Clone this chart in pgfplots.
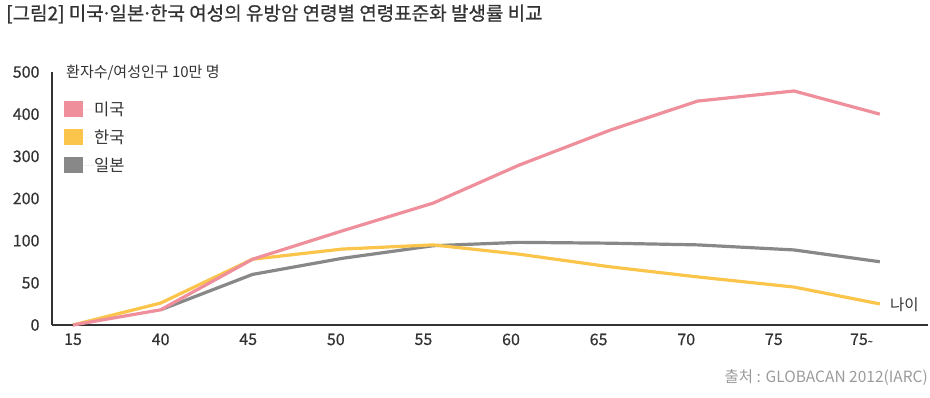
\documentclass[border=0pt]{standalone}
\usepackage{fontspec}
\setmainfont{Noto Sans CJK KR}
\newfontfamily\titlefont[FakeBold=0.7]{Noto Sans CJK KR}
\newfontfamily\tickfont[FakeBold=0.5]{Noto Sans CJK KR}
\usepackage{pgfplots}
\pgfplotsset{compat=1.18}
\definecolor{usa}{HTML}{EF8F9B}
\definecolor{kor}{HTML}{FBC54C}
\definecolor{jpn}{HTML}{888888}
\definecolor{txt}{HTML}{333333}
\definecolor{src}{HTML}{9B9B9B}
\newcommand{\mdot}{\kern-2.5pt·\kern-2.5pt}
\begin{document}
\begin{tikzpicture}[x=1pt,y=1pt]
\useasboundingbox (0,0) rectangle (930,398);
\node[anchor=west, font=\titlefont\fontsize{19}{22}\selectfont, text=txt, inner sep=0pt] at (6,384) {[그림2] 미국\mdot 일본\mdot 한국 여성의 유방암 연령별 연령표준화 발생률 비교};
\begin{axis}[
  at={(52pt,73pt)}, anchor=south west, scale only axis,
  width=876pt, height=253pt,
  xmin=-0.24, xmax=9.76, ymin=0, ymax=500,
  y coord trafo/.code={\pgfmathparse{ifthenelse(#1<=100,#1/50,1+#1/100)}},
  y coord inv trafo/.code={\pgfmathparse{ifthenelse(#1<=2,#1*50,(#1-1)*100)}},
  axis x line=bottom, axis y line=left,
  axis line style={-, draw=txt, line width=1.3pt},
  major tick length=0pt,
  xtick={0,1,2,3,4,5,6,7,8,9},
  xticklabels={15,40,45,50,55,60,65,70,75,75{\fontsize{9}{9}\selectfont\textasciitilde}},
  ytick={0,50,100,200,300,400,500},
  yticklabels={0,50,100,200,300,400,500},
  tick label style={font=\tickfont\fontsize{16}{16}\selectfont, text=txt},
  xticklabel style={yshift=-5pt},
  yticklabel style={xshift=-9pt},
  /pgf/number format/assume math mode=true,
  clip=false,
  legend style={at={(0,1)}, anchor=north west, xshift=12pt, yshift=-29pt,
    draw=none, fill=none, font=\fontsize{16.5}{19}\selectfont, text=txt,
    row sep=12pt, inner sep=0pt, nodes={inner sep=0pt, text=txt}},
  legend cell align=left,
  legend image code/.code={\fill[#1] (0pt,-8pt) rectangle (19pt,8pt); \path (0pt,0pt) -- (30pt,0pt);},
]
\addlegendimage{fill=usa, draw=none}
\addlegendentry{미국}
\addlegendimage{fill=kor, draw=none}
\addlegendentry{한국}
\addlegendimage{fill=jpn, draw=none}
\addlegendentry{일본}

\addplot[jpn, line width=3.2pt, line join=round, forget plot] coordinates {
  (1.00,18) (2.05,60) (3.07,79) (4.11,94) (5.09,98) (6.13,97) (7.13,95) (8.23,89) (9.21,75)};
\addplot[kor, line width=3.2pt, line join=round, forget plot] coordinates {
  (0,0) (1.00,26) (2.05,78) (3.07,90) (4.11,95) (5.09,84) (6.13,69) (7.13,57) (8.23,45) (9.21,25)};
\addplot[usa, line width=3.2pt, line join=round, forget plot] coordinates {
  (0,0) (1.00,18) (2.05,78) (3.07,123) (4.11,189) (5.09,279) (6.13,362) (7.13,431) (8.23,455) (9.21,400)};
\end{axis}
\node[anchor=west, font=\fontsize{15}{17}\selectfont, text=txt, inner sep=0pt] at (66,325) {환자수/여성인구 10만 명};
\node[anchor=west, font=\fontsize{15.5}{17}\selectfont, text=txt, inner sep=0pt] at (890,93) {나이};
\node[anchor=east, font=\fontsize{15.5}{17}\selectfont, text=src, inner sep=0pt] at (928,20) {출처 : GLOBACAN 2012(IARC)};
\end{tikzpicture}
\end{document}
